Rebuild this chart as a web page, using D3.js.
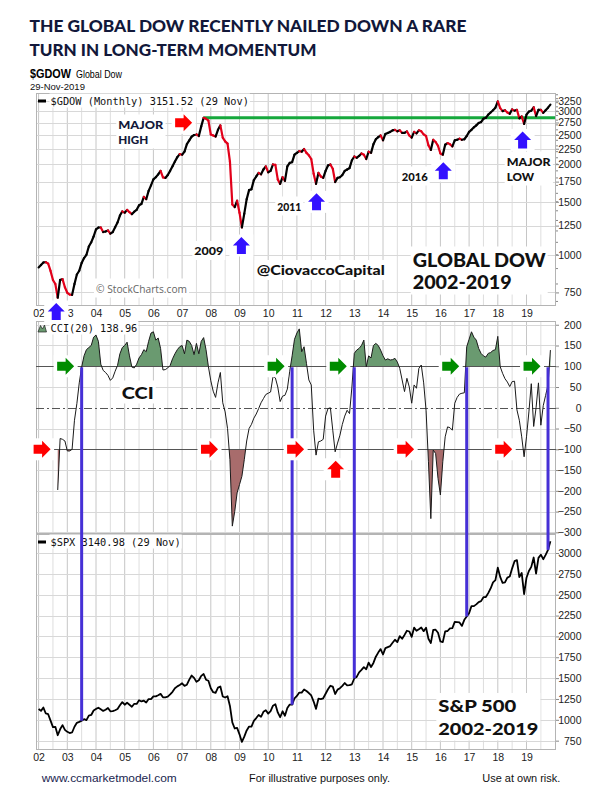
<!DOCTYPE html>
<html>
<head>
<meta charset="utf-8">
<script src="https://cdn.jsdelivr.net/npm/d3@7"></script>
<style>
  body { margin: 0; background: #fff; }
</style>
</head>
<body>
<div id="chart"></div>
<script>
// monthly closes, Jan 2002 .. Nov 2019
const gdow = [
  908, 925, 943, 945, 935, 884, 825, 800, 720, 825, 830, 780,
  748, 738, 736, 800, 860, 885, 940, 975, 1000, 1065, 1100, 1150,
  1215, 1232, 1232, 1190, 1195, 1205, 1175, 1190, 1235, 1280, 1350, 1394,
  1380, 1410, 1385, 1365, 1390, 1410, 1460, 1475, 1557, 1530, 1630, 1700,
  1780, 1810, 1850, 1900, 1807, 1800, 1840, 1900, 1967, 2040, 2110, 2160,
  2150, 2200, 2330, 2400, 2470, 2500, 2510, 2480, 2670, 2850, 2830, 2790,
  2510, 2490, 2470, 2600, 2690, 2450, 2380, 2340, 2040, 1470, 1440, 1512,
  1380, 1232, 1370, 1530, 1640, 1650, 1770, 1820, 1870, 1850, 1920, 1967,
  1880, 1900, 1995, 1990, 1780, 1720, 1810, 1760, 1967, 2020, 2030, 2150,
  2180, 2210, 2200, 2245, 2180, 2140, 2080, 1860, 1720, 1870, 1820, 1800,
  1900, 1980, 1995, 1930, 1745, 1800, 1810, 1840, 1900, 1920, 1940, 2060,
  2120, 2100, 2130, 2170, 2150, 2080, 2200, 2180, 2330, 2420, 2460, 2490,
  2400, 2520, 2540, 2560, 2590, 2600, 2570, 2590, 2540, 2540, 2570, 2490,
  2450, 2560, 2530, 2590, 2570, 2510, 2480, 2310, 2230, 2410, 2370, 2300,
  2170, 2150, 2320, 2350, 2330, 2290, 2400, 2410, 2430, 2410, 2420, 2480,
  2560, 2600, 2650, 2690, 2740, 2760, 2830, 2850, 2920, 2970, 3020, 3080,
  3230, 3070, 3000, 3020, 2970, 2940, 3040, 3010, 3030, 2840, 2880, 2720,
  2920, 2990, 3010, 3090, 2890, 3030, 3030, 2960, 3020, 3080, 3151.52
];

const spx = [
  1130, 1107, 1147, 1076, 1067, 990, 912, 916, 815, 886, 936, 880,
  856, 841, 848, 917, 964, 975, 990, 1008, 996, 1051, 1058, 1112,
  1131, 1145, 1126, 1107, 1121, 1141, 1102, 1104, 1115, 1130, 1174, 1212,
  1181, 1204, 1181, 1157, 1192, 1191, 1234, 1220, 1229, 1207, 1249, 1248,
  1280, 1281, 1295, 1311, 1270, 1270, 1277, 1304, 1336, 1378, 1401, 1418,
  1438, 1407, 1421, 1482, 1531, 1503, 1455, 1474, 1527, 1549, 1481, 1468,
  1379, 1331, 1323, 1386, 1400, 1280, 1267, 1283, 1166, 969, 896, 903,
  826, 735, 798, 873, 919, 919, 987, 1021, 1057, 1036, 1096, 1115,
  1074, 1104, 1169, 1187, 1089, 1031, 1102, 1049, 1141, 1183, 1181, 1258,
  1286, 1327, 1326, 1364, 1345, 1321, 1292, 1219, 1131, 1253, 1247, 1258,
  1312, 1366, 1408, 1398, 1310, 1362, 1379, 1407, 1441, 1412, 1416, 1426,
  1498, 1515, 1569, 1598, 1631, 1606, 1686, 1633, 1682, 1757, 1806, 1848,
  1783, 1859, 1872, 1884, 1924, 1960, 1931, 2003, 1972, 2018, 2068, 2059,
  1995, 2105, 2068, 2086, 2107, 2063, 2104, 1972, 1920, 2079, 2080, 2044,
  1940, 1932, 2060, 2065, 2097, 2099, 2174, 2171, 2168, 2126, 2199, 2239,
  2279, 2364, 2363, 2384, 2412, 2423, 2470, 2472, 2519, 2575, 2648, 2674,
  2824, 2714, 2641, 2648, 2705, 2718, 2816, 2902, 2914, 2712, 2760, 2507,
  2704, 2784, 2834, 2946, 2752, 2942, 2980, 2926, 2977, 3038, 3140.98
];

// CCI(20) of $GDOW, starts Sep 2002
const cciStart = 8;
const cci = [
  -198, -74, -76, -80,
  -104, -104, -100, -30, 10, 60, 98, 125, 140, 145, 150, 170,
  175, 160, 105, 90, 85, 78, 66, 72, 88, 102, 130, 145,
  150, 158, 125, 98, 96, 105, 120, 128, 140, 135, 160, 180,
  183, 163, 168, 143, 91, 92, 96, 102, 118, 130, 140, 147,
  150, 130, 163, 160, 150, 128, 155, 130, 160, 169, 140, 99,
  65, 40, 25, 60, 85, 12, -10, -50, -125, -285, -250, -205,
  -185, -165, -125, -80, -50, -40, -25, -15, -2, 12, 22, 32,
  35, 38, 75, 72, 50, 15, 28, 30, 45, 88, 125, 165,
  180, 190, 135, 147, 107, 67, 55, -54, -114, -82, -80, -76,
  -20, -2, 0, -54, -106, -85, -66, -40, -20, -6, -14, 50,
  131, 139, 143, 150, 163, 99, 125, 120, 150, 155, 150, 139,
  125, 115, 118, 115, 116, 119, 110, 95, 67, 39, 71, 50,
  11, 55, 47, 95, 103, 60, -6, -130, -267, -102, -110, -170,
  -210, -130, -70, -46, -48, -54, 11, 25, 33, 35, 36, 147,
  165, 183, 170, 163, 143, 131, 125, 122, 131, 133, 138, 140,
  172, 99, 83, 70, 62, 51, 63, 64, -5, -30, -70, -118,
  -70, -10, 58, -45, 0, 60, -42, 5, 30, 55, 138.96
];

// months where CCI turned up through +100 (index into the monthly arrays)
const signalMonths = [18, 106, 132, 179, 213];
// months marked with red arrows on the -100 line
const redArrowMonths = [0, 70, 106, 152, 193];

const yearLabels = ["02","03","04","05","06","07","08","09","10","11","12","13","14","15","16","17","18","19"];
const gdowTicks = [750, 1000, 1250, 1500, 1750, 2000, 2250, 2500, 2750, 3000, 3250];
const cciTicks = [200, 150, 100, 50, 0, -50, -100, -150, -200, -250, -300];
const spxTicks = [750, 1000, 1250, 1500, 1750, 2000, 2250, 2500, 2750, 3000];

const W = 612, H = 799;
const L = 36, R = 556;
const top1 = 93, bot1 = 306;
const top2 = 321, bot2 = 534;
const top3 = 534, bot3 = 750;

const RED = "#e2001a", BLUE_ARROW = "#3311ff", BLUE_LINE = "#4630d6",
      GREEN_ARROW = "#008c00", NAVY = "#12183a";
const SANS = "'Liberation Sans', Arial, sans-serif";
const MONO = "'DejaVu Sans Mono', monospace";
const BOLD = "Lato, 'Liberation Sans', sans-serif";

const months = gdow.map((d, i) => 2002 + i / 12);

const x = d3.scaleLinear().domain([2002, 2019]).range([38.6, 526.5]);
const yTop = d3.scaleLog().domain([676, 3446]).range([bot1, top1]);
const yCci = d3.scaleLinear().domain([-304, 209]).range([bot2, top2]);
const ySpx = d3.scaleLinear().domain([638, 3228]).range([bot3, top3]);

const svg = d3.select("#chart").append("svg")
  .attr("width", W).attr("height", H)
  .attr("font-family", SANS);

// text (one or more lines) with a white box behind it
function boxedText(g, tx, ty, lines, attrs, pad, lineH, widths) {
  lines = [].concat(lines);
  const grp = g.append("g");
  const rect = grp.append("rect").attr("fill", "#fff");
  const t = grp.append("text").attr("x", tx).attr("y", ty);
  Object.entries(attrs).forEach(([k, v]) => t.attr(k, v));
  lines.forEach((s, k) => {
    const ts = t.append("tspan").attr("x", tx).attr("y", ty + k * (lineH || 0)).text(s);
    if (widths) ts.attr("textLength", widths[k]).attr("lengthAdjust", "spacingAndGlyphs");
  });
  const b = t.node().getBBox();
  const p = pad == null ? 2 : pad;
  rect.attr("x", b.x - p).attr("y", b.y - p)
    .attr("width", b.width + 2 * p).attr("height", b.height + 2 * p);
  return t;
}

function arrow(g, cx, cy, dir, color) {
  g.append("rect")
    .attr("x", cx - 12).attr("y", cy - 11)
    .attr("width", 24).attr("height", 22)
    .attr("fill", "#fff");
  const d = dir === "right"
    ? "M-8.5,-4.5 L0,-4.5 L0,-8.5 L8.5,0 L0,8.5 L0,4.5 L-8.5,4.5 Z"
    : "M-4.5,8.5 L-4.5,0 L-8.5,0 L0,-8.5 L8.5,0 L4.5,0 L4.5,8.5 Z";
  g.append("path").attr("d", d)
    .attr("transform", `translate(${cx},${cy})`)
    .attr("fill", color);
}

// ---------- header ----------
svg.append("text").attr("x", 29.5).attr("y", 32)
  .attr("font-family", BOLD).attr("font-weight", 900)
  .attr("font-size", 17).attr("fill", NAVY)
  .attr("textLength", 437).attr("lengthAdjust", "spacingAndGlyphs")
  .text("THE GLOBAL DOW RECENTLY NAILED DOWN A RARE");
svg.append("text").attr("x", 29.5).attr("y", 55.5)
  .attr("font-family", BOLD).attr("font-weight", 900)
  .attr("font-size", 17).attr("fill", NAVY)
  .attr("textLength", 287).attr("lengthAdjust", "spacingAndGlyphs")
  .text("TURN IN LONG-TERM MOMENTUM");

svg.append("text").attr("x", 30).attr("y", 78)
  .attr("font-weight", "bold").attr("font-size", 13)
  .attr("textLength", 41).attr("lengthAdjust", "spacingAndGlyphs")
  .text("$GDOW");
svg.append("text").attr("x", 76).attr("y", 78)
  .attr("font-size", 10).attr("textLength", 46).attr("lengthAdjust", "spacingAndGlyphs")
  .text("Global Dow");
svg.append("text").attr("x", 30).attr("y", 90)
  .attr("font-size", 9.5).attr("fill", "#111")
  .text("29-Nov-2019");

// ---------- grids ----------
const grid = svg.append("g");
const halfYears = d3.range(2002, 2020, 0.5);
[[top1, bot1], [top2, bot2], [top3, bot3]].forEach(([a, b]) => {
  grid.selectAll(null).data(halfYears).enter().append("line")
    .attr("x1", d => x(d)).attr("x2", d => x(d))
    .attr("y1", a).attr("y2", b)
    .attr("stroke", d => d % 1 === 0 ? "#c6c6c6" : "#dedede")
    .attr("stroke-width", 1);
});
grid.selectAll(null).data(gdowTicks).enter().append("line")
  .attr("x1", L).attr("x2", R)
  .attr("y1", d => Math.round(yTop(d)) + 0.5).attr("y2", d => Math.round(yTop(d)) + 0.5)
  .attr("stroke", "#d8d8d8");
grid.selectAll(null).data(cciTicks.filter(d => d !== 100 && d !== -100 && d !== 0)).enter().append("line")
  .attr("x1", L).attr("x2", R)
  .attr("y1", d => Math.round(yCci(d)) + 0.5).attr("y2", d => Math.round(yCci(d)) + 0.5)
  .attr("stroke", "#d8d8d8");
grid.selectAll(null).data(spxTicks).enter().append("line")
  .attr("x1", L).attr("x2", R)
  .attr("y1", d => Math.round(ySpx(d)) + 0.5).attr("y2", d => Math.round(ySpx(d)) + 0.5)
  .attr("stroke", "#d8d8d8");

// panel borders
[[top1, bot1], [top2, bot2], [top3, bot3]].forEach(([a, b]) => {
  svg.append("rect").attr("x", L + 0.5).attr("y", a + 0.5)
    .attr("width", R - L - 1).attr("height", b - a - 1)
    .attr("fill", "none").attr("stroke", "#b4b4b4");
});

// ---------- right axes ----------
function rightAxis(scale, ticks, minor) {
  const g = svg.append("g").attr("transform", `translate(${R},0)`)
    .call(d3.axisRight(scale).tickValues(ticks).tickSize(3).tickPadding(3).tickFormat(d3.format("d")));
  g.select(".domain").remove();
  g.selectAll(".tick line").attr("stroke", "#888");
  g.selectAll(".tick text")
    .attr("text-anchor", "end").attr("x", 25.5)
    .attr("font-size", 10.5).attr("fill", "#222")
    .attr("font-family", SANS);
  if (minor) {
    g.selectAll(null).data(minor).enter().append("line")
      .attr("x1", 0).attr("x2", 2)
      .attr("y1", d => scale(d)).attr("y2", d => scale(d))
      .attr("stroke", "#888");
  }
}
rightAxis(yTop, gdowTicks, d3.range(700, 3401, 100));
rightAxis(yCci, cciTicks);
rightAxis(ySpx, spxTicks);

// ---------- bottom axes ----------
[bot1, bot3].forEach(yy => {
  const g = svg.append("g").attr("transform", `translate(0,${yy})`)
    .call(d3.axisBottom(x).tickValues(d3.range(2002, 2020)).tickSize(0).tickPadding(4)
      .tickFormat(d => yearLabels[d - 2002]));
  g.select(".domain").remove();
  g.selectAll(".tick text").attr("font-size", 10.5).attr("fill", "#222")
    .attr("font-family", SANS);
});

// ---------- top panel: Global Dow ----------
const p1 = svg.append("g");
const peakIdx = d3.maxIndex(gdow.slice(0, 120));
p1.append("line")
  .attr("x1", x(months[peakIdx])).attr("x2", R - 1)
  .attr("y1", yTop(gdow[peakIdx])).attr("y2", yTop(gdow[peakIdx]))
  .attr("stroke", "#16a83c").attr("stroke-width", 3);

const segs = d3.range(1, gdow.length);
p1.selectAll(null).data(segs).enter().append("line")
  .attr("x1", i => x(months[i - 1])).attr("y1", i => yTop(gdow[i - 1]))
  .attr("x2", i => x(months[i])).attr("y2", i => yTop(gdow[i]))
  .attr("stroke", i => gdow[i] < gdow[i - 1] ? RED : "#000")
  .attr("stroke-width", 2.2).attr("stroke-linecap", "round");

// legend line
const leg1 = svg.append("g");
boxedText(leg1, 50.5, 104.5, "$GDOW (Monthly) 3151.52 (29 Nov)",
  { "font-family": MONO, "font-size": 10.3, fill: "#111" }, 1);
leg1.append("rect").attr("x", 38).attr("y", 99.5).attr("width", 8).attr("height", 3).attr("fill", "#000");

// annotations in top panel
const ann = svg.append("g");
function boldText(tx, ty, lines, size, widths, fill, lineH) {
  return boxedText(ann, tx, ty, lines, {
    "font-family": BOLD, "font-weight": 900, "font-size": size, fill: fill || "#111"
  }, 2, lineH, [].concat(widths));
}
boldText(118.3, 128.5, ["MAJOR", "HIGH"], 12, [45, 30], NAVY, 15);
arrow(ann, x(months[peakIdx]) - 20, yTop(gdow[peakIdx]) + 5, "right", "#ff0000");

const low03 = d3.minIndex(gdow.slice(0, 24));
arrow(ann, x(months[low03]) - 1.5, 311.5, "up", BLUE_ARROW);

const low09 = 85;
boldText(194.3, 255, "2009", 12, 29);
arrow(ann, x(months[low09]) - 0.5, yTop(gdow[low09]) + 18, "up", BLUE_ARROW);

const low11 = 116;
boldText(277.3, 210.5, "2011", 12, 24);
arrow(ann, x(months[low11]) + 0.5, yTop(gdow[low11]) + 18, "up", BLUE_ARROW);

const low16 = 169;
boldText(401.7, 180.5, "2016", 12, 26);
arrow(ann, x(months[low16]) + 0.5, yTop(gdow[low16]) + 16, "up", BLUE_ARROW);

const low18 = 203;
arrow(ann, x(months[low18]) - 1.5, yTop(gdow[low18]) + 16, "up", BLUE_ARROW);
boldText(506.7, 165.5, ["MAJOR", "LOW"], 12, [44, 27.5], "#111", 15);

boldText(256.7, 275, "@CiovaccoCapital", 13.5, 128);
boldText(412.7, 266.5, ["GLOBAL DOW", "2002-2019"], 18, [133, 99], "#111", 22);

boxedText(ann, 96, 292.5, "\u00a9 StockCharts.com",
  { "font-size": 11.5, fill: "#666", "font-family": "'Open Sans', sans-serif" }, 2, 0, [91]);

// ---------- CCI panel ----------
const p2 = svg.append("g");
const cciData = cci.map((v, i) => ({ t: months[cciStart + i], v }));

const defs = svg.append("defs");
defs.append("clipPath").attr("id", "clipUp").append("rect")
  .attr("x", L).attr("y", top2).attr("width", R - L).attr("height", yCci(100) - top2);
defs.append("clipPath").attr("id", "clipDn").append("rect")
  .attr("x", L).attr("y", yCci(-100)).attr("width", R - L).attr("height", bot2 - yCci(-100));

p2.append("path").datum(cciData)
  .attr("clip-path", "url(#clipUp)")
  .attr("fill", "#6a9a70")
  .attr("d", d3.area().x(d => x(d.t)).y0(yCci(100)).y1(d => yCci(d.v)));
p2.append("path").datum(cciData)
  .attr("clip-path", "url(#clipDn)")
  .attr("fill", "#a86c6c")
  .attr("d", d3.area().x(d => x(d.t)).y0(yCci(-100)).y1(d => yCci(d.v)));

[100, -100].forEach(lv => {
  p2.append("line").attr("x1", L).attr("x2", R)
    .attr("y1", Math.round(yCci(lv)) + 0.5).attr("y2", Math.round(yCci(lv)) + 0.5)
    .attr("stroke", "#555");
});
p2.append("line").attr("x1", L).attr("x2", R)
  .attr("y1", Math.round(yCci(0)) + 0.5).attr("y2", Math.round(yCci(0)) + 0.5)
  .attr("stroke", "#555").attr("stroke-dasharray", "8,3,2,3");

p2.append("path").datum(cciData)
  .attr("fill", "none").attr("stroke", "#1a1a1a").attr("stroke-width", 1)
  .attr("d", d3.line().x(d => x(d.t)).y(d => yCci(d.v)));

const leg2 = svg.append("g");
boxedText(leg2, 50.5, 331.5, "CCI(20) 138.96",
  { "font-family": MONO, "font-size": 10.3, fill: "#111" }, 1);
leg2.append("path").attr("d", "M38,332 L40.5,325.5 L42.5,329 L44.5,325 L46.5,332 Z")
  .attr("fill", "#6a9a70").attr("stroke", "#222").attr("stroke-width", 0.7);

// ---------- SPX panel ----------
const p3 = svg.append("g");
p3.append("path").datum(spx)
  .attr("fill", "none").attr("stroke", "#000").attr("stroke-width", 1.8)
  .attr("stroke-linejoin", "round")
  .attr("d", d3.line().x((d, i) => x(months[i])).y(d => ySpx(d)));

const leg3 = svg.append("g");
boxedText(leg3, 50.5, 545.5, "$SPX 3140.98 (29 Nov)",
  { "font-family": MONO, "font-size": 10.3, fill: "#111" }, 1);
leg3.append("rect").attr("x", 38).attr("y", 540.5).attr("width", 8).attr("height", 3).attr("fill", "#000");

boldText(438.3, 712, ["S&P 500", "2002-2019"], 17.5, [78, 100], "#111", 22.5);

// ---------- signal lines (CCI crossing +100 -> S&P) ----------
const sig = svg.append("g");
sig.selectAll(null).data(signalMonths).enter().append("line")
  .attr("x1", i => x(months[i])).attr("x2", i => x(months[i]))
  .attr("y1", yCci(100) + 1).attr("y2", i => ySpx(spx[i]))
  .attr("stroke", BLUE_LINE).attr("stroke-width", 3);

// CCI arrows
const arr = svg.append("g");
signalMonths.forEach(i => arrow(arr, x(months[i]) - 16, yCci(100), "right", GREEN_ARROW));
redArrowMonths.forEach(i => arrow(arr, x(months[i]) + 3.5, yCci(-100), "right", "#ff0000"));
arrow(arr, x(months[124]) + 0.5, yCci(-100) + 20, "up", "#ff0000");

boxedText(arr, 121.7, 398.5, "CCI", {
  "font-family": BOLD, "font-weight": 900, "font-size": 16, fill: "#111"
}, 2, 0, [32]);

// ---------- footer ----------
svg.append("text").attr("x", 41.7).attr("y", 782)
  .attr("font-size", 11).attr("fill", "#1a2550")
  .attr("textLength", 135).attr("lengthAdjust", "spacingAndGlyphs")
  .text("www.ccmarketmodel.com");
svg.append("text").attr("x", 249).attr("y", 782)
  .attr("font-size", 11).attr("fill", "#111")
  .attr("textLength", 141).attr("lengthAdjust", "spacingAndGlyphs")
  .text("For illustrative purposes only.");
svg.append("text").attr("x", 482.3).attr("y", 782)
  .attr("font-size", 11).attr("fill", "#111")
  .attr("textLength", 78).attr("lengthAdjust", "spacingAndGlyphs")
  .text("Use at own risk.");
</script>
</body>
</html>
